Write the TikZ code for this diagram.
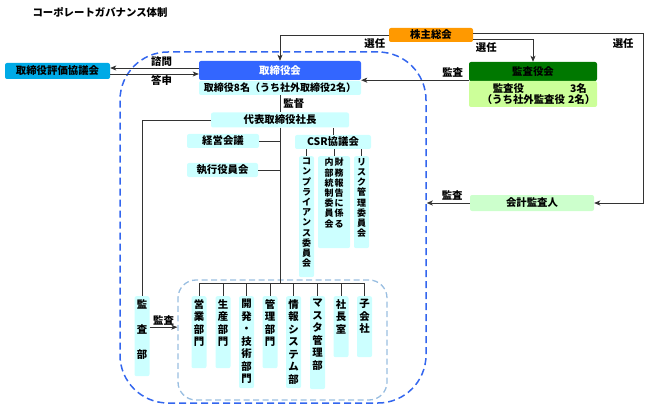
\documentclass[tikz,border=0pt]{standalone}
\usepackage{fontspec}
\setmainfont{Noto Sans CJK JP}
\usetikzlibrary{arrows.meta,positioning}

\definecolor{kabuOrange}{RGB}{255,153,0}
\definecolor{hyokaBlue}{RGB}{0,170,230}
\definecolor{toriBlue}{RGB}{51,102,255}
\definecolor{paleCyan}{RGB}{204,255,255}
\definecolor{kansaGreen}{RGB}{0,120,0}
\definecolor{paleLime}{RGB}{204,255,153}
\definecolor{paleGreen}{RGB}{204,255,204}
\definecolor{boardBlue}{RGB}{51,102,238}
\definecolor{deptDash}{RGB}{153,190,225}
\definecolor{wire}{RGB}{51,51,51}

% vertical (tategaki) text in a box of fixed height
\newcommand{\tate}[3][11pt]{\parbox[c][#2][t]{#1}{\centering #3}}

\begin{document}
\begin{tikzpicture}
[x=1pt, y=-1pt,
 every node/.style={font=\bfseries\fontsize{10.4}{12.8}\selectfont},
 plain/.style={inner sep=0pt, rounded corners=2pt},
 pale/.style={plain, fill=paleCyan},
 tatebox/.style={pale, anchor=north, inner xsep=2pt, inner ysep=3pt, minimum width=15pt,
                 font=\bfseries\fontsize{10.4}{12.5}\selectfont},
 csrtate/.style={tatebox, inner ysep=2pt, font=\bfseries\fontsize{9}{10.2}\selectfont},
 tag/.style={inner sep=1pt},
 link/.style={draw=wire, line width=0.9pt},
 arr/.style={link, -{Stealth[length=6pt,width=5pt,inset=1.5pt]}}
 ]
\useasboundingbox (0,0) rectangle (648,409);

\node[anchor=west] (title) at (29,12) {コーポレートガバナンス体制};

% dashed groups
\node[draw=boardBlue, line width=1.5pt, dash pattern=on 7pt off 4pt, rounded corners=48pt,
      minimum width=306pt, minimum height=351pt] (board) at (273,227.5) {};
\node[draw=deptDash, line width=1.3pt, dash pattern=on 6pt off 3.5pt, rounded corners=18pt,
      minimum width=209pt, minimum height=120pt] (depts) at (282.5,340) {};

% top level
\node[plain, fill=kabuOrange, minimum width=84pt, minimum height=14pt] (kabu) at (431,35) {株主総会};
\node[plain, fill=hyokaBlue, minimum width=105pt, minimum height=16pt] (hyoka) at (57.5,71) {取締役評価協議会};
\node[plain, fill=toriBlue, text=white, minimum width=162pt, minimum height=19pt] (tori) at (280,70.5) {取締役会};
\node[pale, minimum width=162pt, minimum height=14pt, font=\bfseries\fontsize{10}{12}\selectfont] (members) at (280,88) {取締役8名（うち社外取締役2名）};
\node[plain, fill=kansaGreen, minimum width=128pt, minimum height=19pt] (kansa) at (533,71.5) {監査役会};
\node[plain, fill=paleLime, minimum width=128pt, minimum height=26pt, align=left,
      font=\bfseries\fontsize{10.4}{11.2}\selectfont] (kansain) at (533,94)
      {\hspace*{22pt}監査役\hspace{46pt}3名\\\hspace*{11pt}（うち社外監査役\hspace{3pt}2名）};
\node[plain, fill=paleGreen, minimum width=124pt, minimum height=16pt] (kaikei) at (532,203) {会計監査人};

% executive side
\node[pale, minimum width=138pt, minimum height=15pt] (ceo) at (280,120) {代表取締役社長};
\node[pale, minimum width=72pt, minimum height=14pt] (keiei) at (223,141) {経営会議};
\node[pale, minimum width=71pt, minimum height=14pt] (shikko) at (222.5,170) {執行役員会};
\node[pale, minimum width=76pt, minimum height=14pt] (csr) at (333,142) {CSR協議会};
\node[csrtate] (comp) at (306.5,156) {\tate[10pt]{117pt}{コ\\ン\\プ\\ラ\\イ\\ア\\ン\\ス\\委\\員\\会}};
\node[csrtate, minimum width=32pt] (zaimu) at (334,156) {\tate[10pt]{88pt}{内\\部\\統\\制\\委\\員\\会}\tate[10pt]{88pt}{財\\務\\報\\告\\に\\係\\る}};
\node[csrtate] (risk) at (361.5,156) {\tate[10pt]{88pt}{リ\\ス\\ク\\管\\理\\委\\員\\会}};
\node[tatebox, font=\bfseries\fontsize{10.4}{25}\selectfont] (kansabu) at (142,296) {\tate{74pt}{監\\査\\部}};

% departments
\node[tatebox] (eigyo) at (199,296) {\tate{66pt}{営\\業\\部\\門}};
\node[tatebox] (seisan) at (223,296) {\tate{66pt}{生\\産\\部\\門}};
\node[tatebox] (kaihatsu) at (246.5,296) {\tate{86pt}{開\\発\\・\\技\\術\\部\\門}};
\node[tatebox] (kanri) at (270,296) {\tate{66pt}{管\\理\\部\\門}};
\node[tatebox] (joho) at (293.5,296) {\tate{86pt}{情\\報\\シ\\ス\\テ\\ム\\部}};
\node[tatebox] (master) at (317.5,296) {\tate{87pt}{マ\\ス\\タ\\管\\理\\部}};
\node[tatebox] (shacho) at (341,296) {\tate{55pt}{社\\長\\室}};
\node[tatebox] (kogaisha) at (364.5,296) {\tate{55pt}{子\\会\\社}};

\coordinate (bus) at (280,283);
\coordinate (rcorner) at (643,203);

% shareholders
\draw[arr] (kabu.west) -| node[tag, pos=0.064, below=2pt] (lblSenA) {選任} (tori.north);
\draw[arr] ([yshift=-4pt]kabu.east) -| node[tag, pos=0.11, below=2pt] (lblSenB) {選任} (kansa.north);
\draw[arr] ([yshift=2pt]kabu.east) -| node[tag, below left=4pt and 8pt] (lblSenC) {選任} (rcorner) -- (kaikei.east);

% board
\draw[arr] ([yshift=2.5pt]tori.west) -- ([yshift=2.5pt]tori.west -| hyoka.east)
  node[tag, pos=0.42, above] (lblShimon) {諮問};
\draw[arr] ([yshift=-3.5pt]tori.west -| hyoka.east) -- ([yshift=-3.5pt]tori.west)
  node[tag, pos=0.58, below] (lblToshin) {答申};
\draw[arr] (kansa.west |- tori.south east) -- (tori.south east)
  node[tag, pos=0.15, above=1pt] (lblKansaA) {監査};
\draw[arr] (kaikei.west) -- (kaikei.west -| board.east)
  node[tag, pos=0.41, above=1pt] (lblKansaB) {監査};
\draw[link] (members.south) -- (ceo.north) node[tag, midway, right=2pt] (lblKantoku) {監督};

% executive tree
\draw[link] (ceo.south) -- (bus);
\draw[link] (keiei.east) -- (keiei.east -| bus);
\draw[link] (shikko.east) -- (shikko.east -| bus);
\draw[link] (ceo.west) -| (kansabu.north);
\draw[link] (csr.north) -- (csr.north |- ceo.south);
\foreach \c in {comp,zaimu,risk}
  \draw[link] (\c.north) -- (\c.north |- csr.south);
\foreach \d in {eigyo,seisan,kaihatsu,kanri,joho,master,shacho,kogaisha}
  \draw[link] (bus) -| (\d.north);
\draw[arr] ([yshift=9pt]kansabu.east) -- ([yshift=9pt]kansabu.east -| depts.west)
  node[tag, midway, above] (lblKansaC) {監査};
\end{tikzpicture}
\end{document}
